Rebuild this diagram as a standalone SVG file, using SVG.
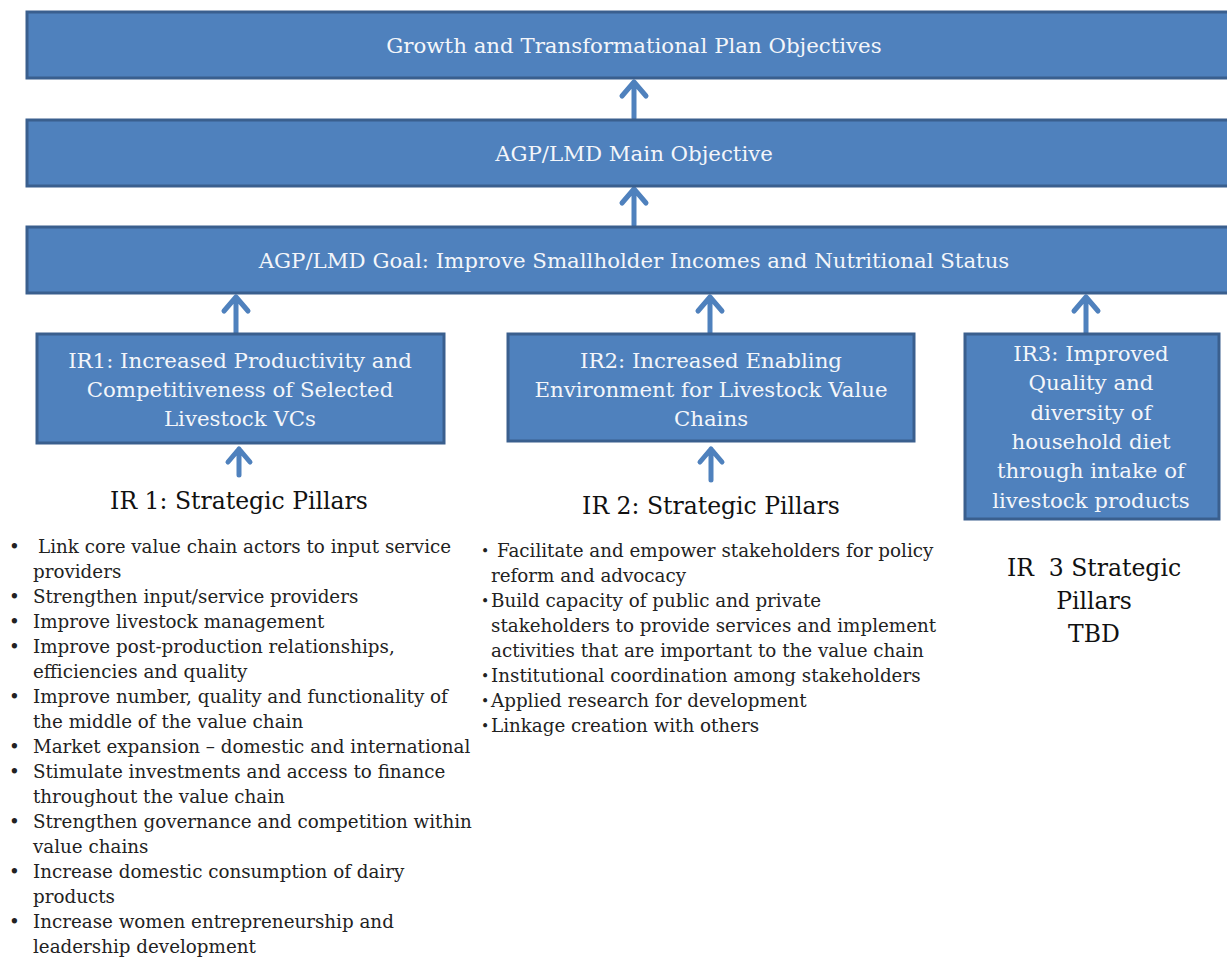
<svg xmlns="http://www.w3.org/2000/svg" width="1227" height="959" viewBox="0 0 1227 959">
<style>
.box{fill:#4F81BD;stroke:#3A5F8E;stroke-width:3}
.bt{font-family:"DejaVu Serif","Liberation Serif",serif;font-size:21.3px;fill:#F4F6FA;text-anchor:middle}
.hd{font-family:"DejaVu Serif","Liberation Serif",serif;font-size:23.5px;fill:#111;text-anchor:middle}
.li{font-family:"DejaVu Serif","Liberation Serif",serif;font-size:18.3px;fill:#222}
.sb{font-size:14px}
.arr{stroke:#4F81BD;stroke-width:5;fill:none;stroke-linecap:round;stroke-linejoin:round}
</style>
<rect width="1227" height="959" fill="#fff"/>
<g id="connectors">
<path class="arr" d="M634 118V82M622 96L634 82L646 96"/>
<path class="arr" d="M634 225V189M622 203L634 189L646 203"/>
<path class="arr" d="M236 333V297M224 311L236 297L248 311"/>
<path class="arr" d="M710 333V297M698 311L710 297L722 311"/>
<path class="arr" d="M1086 333V297M1074 311L1086 297L1098 311"/>
<path class="arr" d="M239 475V449M228 462L239 449L250 462"/>
<path class="arr" d="M711 480V449M700 462L711 449L722 462"/>
</g>
<g id="gtp"><rect class="box" x="27" y="12" width="1220" height="66"/><text class="bt" x="634" y="53">Growth and Transformational Plan Objectives</text></g>
<g id="main"><rect class="box" x="27" y="120" width="1220" height="66"/><text class="bt" x="634" y="161">AGP/LMD Main Objective</text></g>
<g id="goal"><rect class="box" x="27" y="227" width="1220" height="66"/><text class="bt" x="634" y="268">AGP/LMD Goal: Improve Smallholder Incomes and Nutritional Status</text></g>
<g id="ir1"><rect class="box" x="37" y="334" width="407" height="109"/>
<text class="bt" x="240" y="368">IR1: Increased Productivity and</text>
<text class="bt" x="240" y="397">Competitiveness of Selected</text>
<text class="bt" x="240" y="426">Livestock VCs</text></g>
<g id="ir2"><rect class="box" x="508" y="334" width="406" height="107"/>
<text class="bt" x="711" y="368">IR2: Increased Enabling</text>
<text class="bt" x="711" y="397">Environment for Livestock Value</text>
<text class="bt" x="711" y="426">Chains</text></g>
<g id="ir3"><rect class="box" x="965" y="334" width="254" height="185"/>
<text class="bt" x="1091" y="361">IR3: Improved</text>
<text class="bt" x="1091" y="390">Quality and</text>
<text class="bt" x="1091" y="420">diversity of</text>
<text class="bt" x="1091" y="449">household diet</text>
<text class="bt" x="1091" y="478">through intake of</text>
<text class="bt" x="1091" y="508">livestock products</text></g>
<g id="p1"><text class="hd" x="239" y="509">IR 1: Strategic Pillars</text>
<g class="li">
<text x="9" y="553">•</text><text x="38" y="553">Link core value chain actors to input service</text>
<text x="33" y="578">providers</text>
<text x="9" y="603">•</text><text x="33" y="603">Strengthen input/service providers</text>
<text x="9" y="628">•</text><text x="33" y="628">Improve livestock management</text>
<text x="9" y="653">•</text><text x="33" y="653">Improve post-production relationships,</text>
<text x="33" y="678">efficiencies and quality</text>
<text x="9" y="703">•</text><text x="33" y="703">Improve number, quality and functionality of</text>
<text x="33" y="728">the middle of the value chain</text>
<text x="9" y="753">•</text><text x="33" y="753">Market expansion – domestic and international</text>
<text x="9" y="778">•</text><text x="33" y="778">Stimulate investments and access to finance</text>
<text x="33" y="803">throughout the value chain</text>
<text x="9" y="828">•</text><text x="33" y="828">Strengthen governance and competition within</text>
<text x="33" y="853">value chains</text>
<text x="9" y="878">•</text><text x="33" y="878">Increase domestic consumption of dairy</text>
<text x="33" y="903">products</text>
<text x="9" y="928">•</text><text x="33" y="928">Increase women entrepreneurship and</text>
<text x="33" y="953">leadership development</text>
</g></g>
<g id="p2"><text class="hd" x="711" y="514">IR 2: Strategic Pillars</text>
<g class="li">
<text class="sb" x="481" y="556">•</text><text x="497" y="557">Facilitate and empower stakeholders for policy</text>
<text x="491" y="582">reform and advocacy</text>
<text class="sb" x="481" y="606">•</text><text x="491" y="607">Build capacity of public and private</text>
<text x="491" y="632">stakeholders to provide services and implement</text>
<text x="491" y="657">activities that are important to the value chain</text>
<text class="sb" x="481" y="681">•</text><text x="491" y="682">Institutional coordination among stakeholders</text>
<text class="sb" x="481" y="706">•</text><text x="491" y="707">Applied research for development</text>
<text class="sb" x="481" y="731">•</text><text x="491" y="732">Linkage creation with others</text>
</g></g>
<g id="p3">
<text class="hd" x="1094" y="576" style="white-space:pre">IR  3 Strategic</text>
<text class="hd" x="1094" y="609">Pillars</text>
<text class="hd" x="1094" y="642">TBD</text>
</g>
</svg>
